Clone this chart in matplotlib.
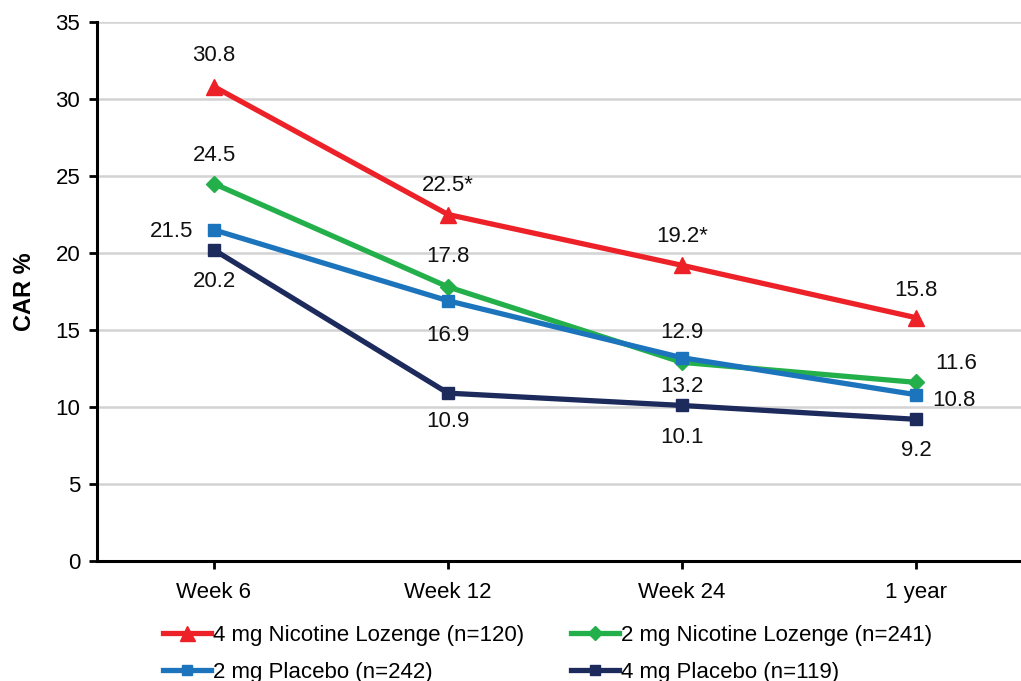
import matplotlib
matplotlib.use('Agg')
import matplotlib.pyplot as plt

plt.rcParams['font.family'] = ['Liberation Sans', 'DejaVu Sans']

# data
timepoints = ['Week 6', 'Week 12', 'Week 24', '1 year']
lozenge_4mg = [30.8, 22.5, 19.2, 15.8]
lozenge_2mg = [24.5, 17.8, 12.9, 11.6]
placebo_2mg = [21.5, 16.9, 13.2, 10.8]
placebo_4mg = [20.2, 10.9, 10.1, 9.2]
labels_4mg = ['30.8', '22.5*', '19.2*', '15.8']
series_names = ['4 mg Nicotine Lozenge (n=120)', '2 mg Nicotine Lozenge (n=241)',
                '2 mg Placebo (n=242)', '4 mg Placebo (n=119)']

# label offsets in pixels (dx, dy) for each point
off_red = [(0, 31), (0, 29), (0, 29), (0, 27)]
off_green = [(0, 28), (0, 30), (0, 30), (40, 19)]
off_blue = [(-42, -2), (0, -35), (0, -29), (38, -6)]
off_navy = [(0, -32), (0, -28), (0, -32), (0, -31)]

fig = plt.figure(figsize=(10.21, 6.81), dpi=100)
ax = fig.add_axes([97 / 1021, 120 / 681, 936 / 1021, 539 / 681])

x = list(range(len(timepoints)))
styles = [
    (lozenge_4mg, '#ED2128', '^', 12, off_red),
    (lozenge_2mg, '#23B04B', 'D', 8, off_green),
    (placebo_2mg, '#1C75BC', 's', 8, off_blue),
    (placebo_4mg, '#1D2A5C', 's', 8, off_navy),
]

handles = []
for i, (vals, col, mk, ms, offs) in enumerate(styles):
    h, = ax.plot(x, vals, color=col, lw=3.8, marker=mk, markersize=ms,
                 label=series_names[i], zorder=3 + (i == 2))
    handles.append(h)
    for j, v in enumerate(vals):
        txt = labels_4mg[j] if i == 0 else f'{v:.1f}'
        ax.annotate(txt, (j, v), xytext=offs[j], textcoords='offset pixels',
                    ha='center', va='center', fontsize=16, color='#111111')

ax.set_xlim(-0.5, 3.5)
ax.set_ylim(0, 35)
ax.set_yticks(range(0, 36, 5))
ax.set_xticks(x)
ax.set_xticklabels(timepoints)
ax.tick_params(axis='both', labelsize=16, width=2, length=6, color='black')
ax.tick_params(axis='x', pad=9)
ax.tick_params(axis='y', pad=6)
ax.yaxis.grid(True, color='#D3D3D3', lw=1.8)
ax.set_axisbelow(True)
for s in ['top', 'right']:
    ax.spines[s].set_visible(False)
for s in ['left', 'bottom']:
    ax.spines[s].set_linewidth(2.2)
ax.set_ylabel('CAR %', fontsize=17, fontweight='bold', labelpad=14)

# legend: two columns, placed as two single-column legends
leg_kw = dict(frameon=False, fontsize=16, handlelength=2.15, handletextpad=0.1,
              labelspacing=0.7, markerscale=0.9, borderaxespad=0, borderpad=0)
leg1 = fig.legend(handles=[handles[0], handles[2]], loc='upper left',
                  bbox_to_anchor=(163 / 1021, 1 - 625 / 681), **leg_kw)
leg2 = fig.legend(handles=[handles[1], handles[3]], loc='upper left',
                  bbox_to_anchor=(571 / 1021, 1 - 625 / 681), **leg_kw)

fig.savefig('out.png', dpi=100)
